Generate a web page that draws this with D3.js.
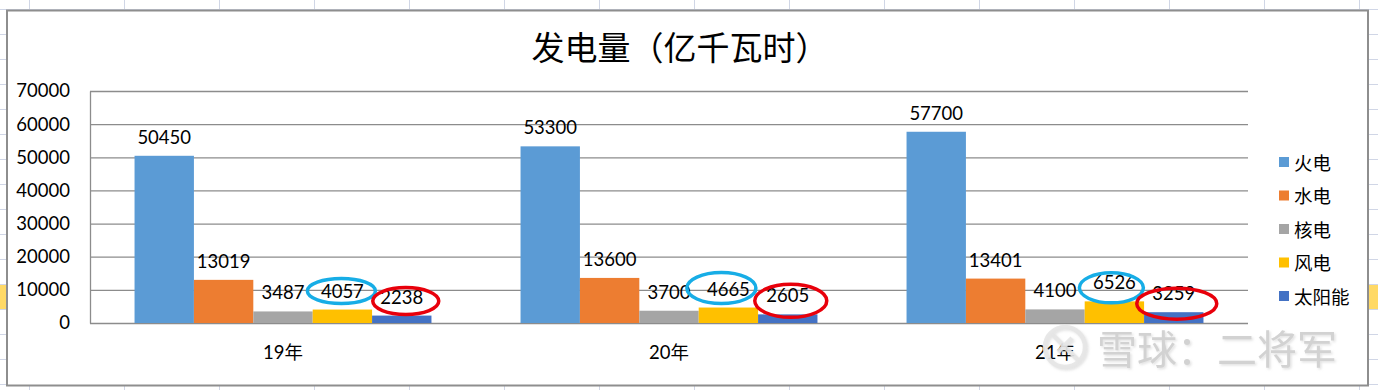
<!DOCTYPE html>
<html lang="zh">
<head>
<meta charset="UTF-8">
<title>发电量（亿千瓦时）</title>
<script src="https://d3js.org/d3.v7.min.js"></script>
<style>
    body { margin: 0; background: #fff; }
    svg { display: block; }
    .num { font-family: "Lato", "Liberation Sans", sans-serif; font-size: 18.5px; fill: #000; }
    .cjk { font-family: "Noto Sans CJK SC", sans-serif; fill: #000; }
</style>
</head>
<body>
<div id="chart"></div>
<script>
    // data
    const categories = ["19年", "20年", "21年"];
    const seriesNames = ["火电", "水电", "核电", "风电", "太阳能"];
    const thermal = [50450, 53300, 57700];
    const hydro = [13019, 13600, 13401];
    const nuclear = [3487, 3700, 4100];
    const wind = [4057, 4665, 6526];
    const solar = [2238, 2605, 3259];
    const yTicks = [0, 10000, 20000, 30000, 40000, 50000, 60000, 70000];

    const seriesValues = [thermal, hydro, nuclear, wind, solar];
    const colors = ["#5B9BD5", "#ED7D31", "#A5A5A5", "#FFC000", "#4472C4"];

    // hand drawn rings around some labels (offsets from label centre)
    const rings = [
        { cat: 0, s: 3, color: "#17ADE6", rx: 34, ry: 12.5, dx: -1, dy: 0 },
        { cat: 0, s: 4, color: "#E8000B", rx: 33, ry: 13.5, dx: 4, dy: 4 },
        { cat: 1, s: 3, color: "#17ADE6", rx: 34.5, ry: 15.5, dx: -7, dy: -1 },
        { cat: 1, s: 4, color: "#E8000B", rx: 36, ry: 16.5, dx: 3, dy: 5 },
        { cat: 2, s: 3, color: "#17ADE6", rx: 32, ry: 15, dx: -3, dy: 5 },
        { cat: 2, s: 4, color: "#E8000B", rx: 40, ry: 15.5, dx: 3, dy: 10 }
    ];

    const W = 1378, H = 390;
    const plot = { left: 90, right: 1248, top: 91, bottom: 323 };

    const svg = d3.select("#chart").append("svg")
        .attr("width", W)
        .attr("height", H);

    // spreadsheet cells behind the chart
    const cells = svg.append("g");
    cells.append("rect").attr("width", W).attr("height", H).attr("fill", "#fff");
    cells.append("rect").attr("x", 0).attr("y", 284).attr("width", W).attr("height", 25).attr("fill", "#FFD966");
    cells.selectAll("line.v")
        .data(d3.range(29, W, 95))
        .enter().append("line")
        .attr("x1", d => d + 0.5).attr("x2", d => d + 0.5)
        .attr("y1", 0).attr("y2", H)
        .attr("stroke", "#D0D6E6");
    cells.selectAll("line.h")
        .data(d3.range(9, H, 25))
        .enter().append("line")
        .attr("x1", 0).attr("x2", W)
        .attr("y1", d => d + 0.5).attr("y2", d => d + 0.5)
        .attr("stroke", "#D0D6E6");

    // chart frame
    svg.append("rect")
        .attr("x", 7).attr("y", 10.5)
        .attr("width", 1361).attr("height", 375)
        .attr("fill", "#fff")
        .attr("stroke", "#8E8E8E")
        .attr("stroke-width", 2);

    // title
    svg.append("text")
        .attr("class", "cjk")
        .attr("x", 680).attr("y", 46)
        .attr("text-anchor", "middle")
        .attr("dominant-baseline", "central")
        .style("font-size", "33px")
        .text("发电量（亿千瓦时）");

    const y = d3.scaleLinear()
        .domain([0, 70000])
        .range([plot.bottom, plot.top]);

    const x0 = d3.scaleBand()
        .domain(categories)
        .range([plot.left, plot.right])
        .padding(0);

    const x1 = d3.scaleBand()
        .domain(seriesNames)
        .range([0, x0.bandwidth()])
        .paddingInner(0)
        .paddingOuter(0.75);

    // y axis + gridlines
    const yAxis = svg.append("g")
        .attr("transform", "translate(" + plot.left + ",0)")
        .call(d3.axisLeft(y).tickValues(yTicks).tickFormat(d3.format("d"))
            .tickSize(-(plot.right - plot.left)).tickSizeOuter(0).tickPadding(20));
    yAxis.selectAll(".tick line").attr("stroke", "#8C8C8C").attr("stroke-width", 1.3);
    yAxis.select(".domain").attr("stroke", "#8C8C8C").attr("stroke-width", 1.3);
    yAxis.selectAll(".tick text").attr("class", "num").attr("fill", "#000");

    // bars
    const groups = svg.append("g").selectAll("g")
        .data(categories)
        .enter().append("g")
        .attr("transform", d => "translate(" + x0(d) + ",0)");

    groups.selectAll("rect")
        .data((c, i) => seriesNames.map((s, j) => ({ s: s, j: j, v: seriesValues[j][i] })))
        .enter().append("rect")
        .attr("x", d => x1(d.s))
        .attr("width", x1.bandwidth())
        .attr("y", d => y(d.v))
        .attr("height", d => y(0) - y(d.v))
        .attr("fill", d => colors[d.j]);

    groups.selectAll("text")
        .data((c, i) => seriesNames.map((s, j) => ({ s: s, j: j, v: seriesValues[j][i] })))
        .enter().append("text")
        .attr("class", "num")
        .attr("x", d => x1(d.s) + x1.bandwidth() / 2)
        .attr("y", d => y(d.v) - 12)
        .attr("text-anchor", "middle")
        .text(d => d.v);

    // category axis
    const xAxis = svg.append("g")
        .attr("transform", "translate(0," + plot.bottom + ")")
        .call(d3.axisBottom(x0).tickSize(0).tickPadding(23));
    xAxis.select(".domain").remove();
    xAxis.selectAll(".tick text")
        .attr("class", "num")
        .style("font-family", "'Lato', 'Noto Sans CJK SC', sans-serif")
        .attr("fill", "#000");

    // rings
    svg.append("g").selectAll("ellipse")
        .data(rings)
        .enter().append("ellipse")
        .attr("cx", d => x0(categories[d.cat]) + x1(seriesNames[d.s]) + x1.bandwidth() / 2 + d.dx)
        .attr("cy", d => y(seriesValues[d.s][d.cat]) - 18.5 + d.dy)
        .attr("rx", d => d.rx)
        .attr("ry", d => d.ry)
        .attr("fill", "none")
        .attr("stroke", d => d.color)
        .attr("stroke-width", 3.5);

    // legend
    const legend = svg.append("g").selectAll("g")
        .data(seriesNames)
        .enter().append("g")
        .attr("transform", (d, i) => "translate(1279," + (161.5 + i * 33.5) + ")");
    legend.append("rect")
        .attr("x", 0).attr("y", -4.5)
        .attr("width", 10).attr("height", 10)
        .attr("fill", (d, i) => colors[i]);
    legend.append("text")
        .attr("class", "cjk")
        .attr("x", 15)
        .attr("dominant-baseline", "central")
        .style("font-size", "18.5px")
        .text(d => d);

    // watermark
    const defs = svg.append("defs");
    const f = defs.append("filter").attr("id", "wmShadow");
    f.append("feDropShadow").attr("dx", 1.5).attr("dy", 1.5).attr("stdDeviation", 1)
        .attr("flood-color", "#aaa").attr("flood-opacity", 0.35);
    const wm = svg.append("g").attr("filter", "url(#wmShadow)");
    wm.append("circle")
        .attr("cx", 1065).attr("cy", 347).attr("r", 20)
        .attr("fill", "none").attr("stroke", "#E6E6E6").attr("stroke-width", 4.5)
        .attr("stroke-opacity", 0.9);
    wm.append("path")
        .attr("d", "M1052,334 L1078,360 M1058,352 L1072,338")
        .attr("stroke", "#E6E6E6").attr("stroke-width", 4.5).attr("fill", "none")
        .attr("stroke-opacity", 0.9);
    wm.append("text")
        .attr("class", "cjk")
        .attr("x", 1097).attr("y", 347)
        .attr("dominant-baseline", "central")
        .style("font-size", "40px")
        .style("fill", "#D2D2D2")
        .text("雪球：二将军");
</script>
</body>
</html>
